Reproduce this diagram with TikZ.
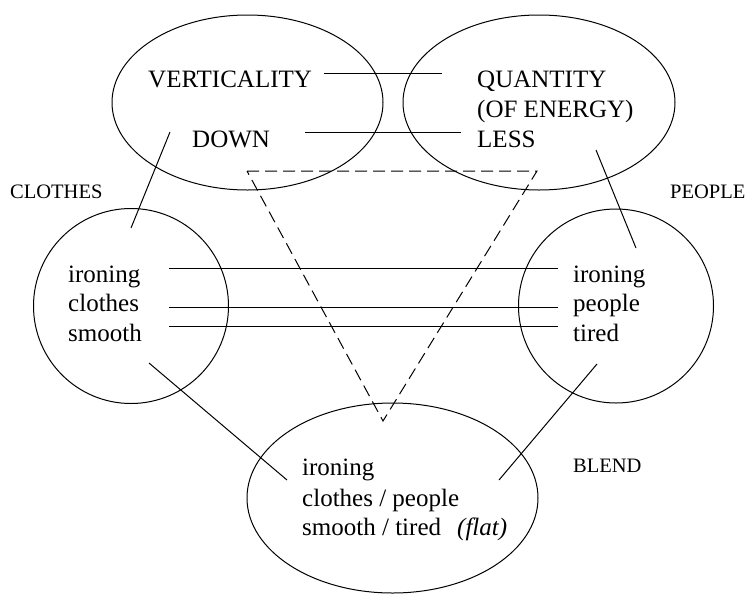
\documentclass[tikz,border=0pt]{standalone}
\usepackage{fontspec}
\setmainfont{Liberation Serif}
\usetikzlibrary{shapes.geometric}
\begin{document}
\begin{tikzpicture}[x=1pt,y=-1pt,
  blob/.style={draw, ellipse, line width=1pt, inner sep=0pt},
  txt/.style={anchor=base west, inner sep=0pt, font=\fontsize{25}{30}\selectfont},
  lbl/.style={anchor=base west, inner sep=0pt, font=\fontsize{20.5}{24}\selectfont},
  link/.style={line width=1pt},
  tri/.style={line width=1pt, dash pattern=on 12pt off 6pt}]
\useasboundingbox (0,0) rectangle (750,595);
% frames
\node[blob, minimum width=271pt, minimum height=175pt] (vert) at (247.5,102.5) {};
\node[blob, minimum width=272pt, minimum height=175pt] (quant) at (539,102.5) {};
\node[blob, minimum width=195pt, minimum height=195pt] (clothes) at (131,306) {};
\node[blob, minimum width=195pt, minimum height=194pt] (people) at (616,306) {};
\node[blob, minimum width=291pt, minimum height=190pt] (blend) at (392.5,498) {};
% texts
\node[txt] (tV) at (148,87) {VERTICALITY};
\node[txt] (tD) at (192,147) {DOWN};
\node[txt] (tQ) at (477,87) {QUANTITY};
\node[txt] (tE) at (477,117) {(OF ENERGY)};
\node[txt] (tL) at (477,147) {LESS};
\node[txt] (ci) at (68,282) {ironing};
\node[txt] (cc) at (68,311) {clothes};
\node[txt] (cs) at (68,341) {smooth};
\node[txt] (pi) at (573,282) {ironing};
\node[txt] (pp) at (573,311) {people};
\node[txt] (pt) at (573,341) {tired};
\node[txt] (bi) at (302,475) {ironing};
\node[txt] (bc) at (302,506) {clothes / people};
\node[txt] (bs) at (302,535) {smooth / tired};
\node[txt] (bf) at (457,535) {\itshape (flat)};
\node[lbl] (lC) at (10,198) {CLOTHES};
\node[lbl] (lP) at (670,198) {PEOPLE};
\node[lbl] (lB) at (573,472) {BLEND};
% connector ends
\coordinate (a1) at (324,73);  \coordinate (a2) at (442,73);
\coordinate (b1) at (305,132); \coordinate (b2) at (461,132);
\coordinate (c1) at (170,132); \coordinate (c2) at (131,228);
\coordinate (d1) at (596,150); \coordinate (d2) at (636,248);
\coordinate (e1) at (169,268); \coordinate (e2) at (558,268);
\coordinate (f1) at (169,307); \coordinate (f2) at (558,307);
\coordinate (g1) at (169,326); \coordinate (g2) at (558,326);
\coordinate (h1) at (149,363); \coordinate (h2) at (287,480);
\coordinate (k1) at (597,364); \coordinate (k2) at (499,480);
\coordinate (t1) at (247,171); \coordinate (t2) at (537,171); \coordinate (t3) at (383,421);
% connectors
\draw[link] (a1) -- (a2);
\draw[link] (b1) -- (b2);
\draw[link] (c1) -- (c2);
\draw[link] (d1) -- (d2);
\draw[link] (e1) -- (e2);
\draw[link] (f1) -- (f2);
\draw[link] (g1) -- (g2);
\draw[link] (h1) -- (h2);
\draw[link] (k1) -- (k2);
\draw[tri] (t1) -- (t2) -- (t3) -- cycle;
\end{tikzpicture}
\end{document}
